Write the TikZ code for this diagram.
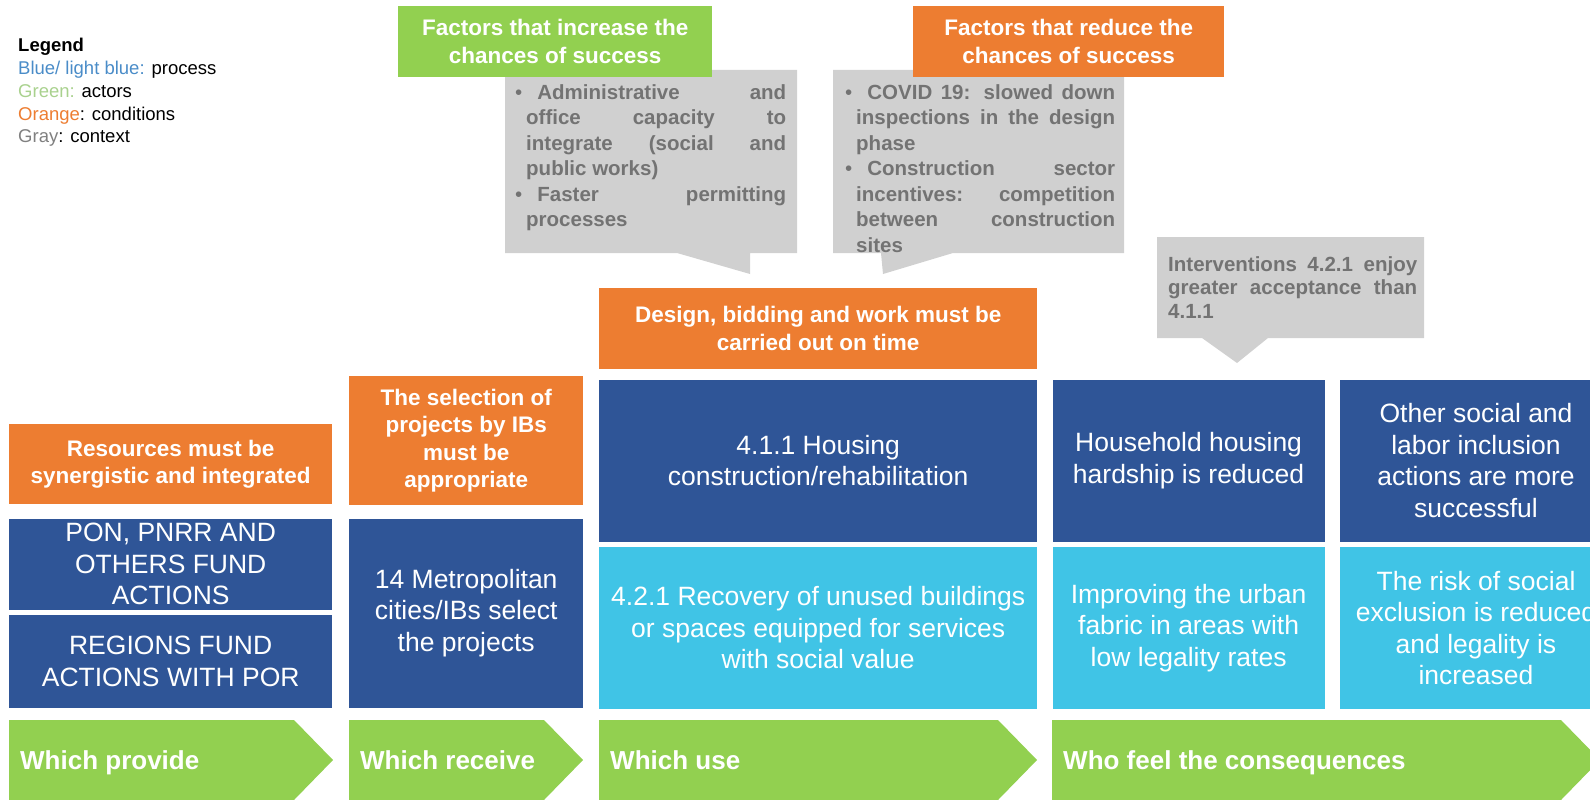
\documentclass[tikz,border=0pt]{standalone}
\usepackage{fontspec}
\setmainfont{Liberation Sans}
\usepackage{tikz}
\usetikzlibrary{positioning}
\usepackage{xcolor}

\definecolor{procblue}{HTML}{2F5597}
\definecolor{proclight}{HTML}{40C4E6}
\definecolor{condorange}{HTML}{ED7D31}
\definecolor{actorgreen}{HTML}{92D050}
\definecolor{calloutgray}{HTML}{D0D0D0}
\definecolor{callouttxt}{HTML}{737373}
\definecolor{legblue}{HTML}{4A8CC8}
\definecolor{leggreen}{HTML}{A9D18E}
\definecolor{leggray}{HTML}{808080}

\newcommand{\procfont}{\fontsize{26.5}{31.5}\selectfont}
\newcommand{\condfont}{\bfseries\fontsize{22.5}{27.5}\selectfont}
\newcommand{\calloutfont}{\bfseries\fontsize{20.5}{25.5}\selectfont}
\newcommand{\notefont}{\bfseries\fontsize{20.5}{23.5}\selectfont}
\newcommand{\actorfont}{\bfseries\fontsize{26}{31}\selectfont}
\newcommand{\legendfont}{\fontsize{18.5}{22.8}\selectfont}
\newcommand{\calbullet}{{\mdseries\textbullet}\hspace{15pt}}

\begin{document}
\begin{tikzpicture}[
    x=1pt, y=-1pt,
    box/.style={rectangle, inner sep=0pt, align=center, text=white},
    condbox/.style={box, fill=condorange, font=\condfont},
    headbox/.style={box, font=\condfont, minimum height=71pt, anchor=north west},
    procbox/.style={box, fill=procblue, font=\procfont},
    lightbox/.style={procbox, fill=proclight},
    calloutbg/.style={fill=calloutgray},
    callouttext/.style={inner sep=0pt, anchor=north west, align=justify, text=callouttxt, font=\calloutfont},
    actorarrow/.style={fill=actorgreen},
    actortext/.style={inner sep=0pt, anchor=base west, text=white, font=\actorfont},
    legendtext/.style={inner sep=0pt, anchor=north west, align=left, font=\legendfont}
]

\useasboundingbox (0,0) rectangle (1590,800);
\clip (0,0) rectangle (1590,800);

% Legend
\node[legendtext] (legend) at (18,38) {\textbf{Legend}\\
  \textcolor{legblue}{Blue/ light blue:} process\\
  \textcolor{leggreen}{Green:} actors\\
  \textcolor{condorange}{Orange}: conditions\\
  \textcolor{leggray}{Gray}: context};

% Callouts (headers are put on top of them)
\fill[calloutbg] (505,70) -- (797,70) -- (797,253) -- (750,253) -- (750,274) -- (677,253) -- (505,253) -- cycle;
\node[callouttext, text width=271pt] (helps) at (515,84) {%
  \noindent\hangindent=11pt\hangafter=1 \calbullet Administrative and\linebreak
  office capacity to\linebreak integrate (social and\linebreak public works)\par
  \noindent\hangindent=11pt\hangafter=1 \calbullet Faster permitting\linebreak processes\par};

\fill[calloutbg] (833,70) -- (1124,70) -- (1124,253) -- (953,253) -- (883,274) -- (881,253) -- (833,253) -- cycle;
\node[callouttext, text width=270pt] (hinders) at (845,84) {%
  \noindent\hangindent=11pt\hangafter=1 \calbullet COVID 19: slowed down\linebreak
  inspections in the design\linebreak phase\par
  \noindent\hangindent=11pt\hangafter=1 \calbullet Construction sector\linebreak
  incentives: competition\linebreak between construction\linebreak sites\par};

\fill[calloutbg] (1157,237) -- (1424,237) -- (1424,338) -- (1268,338) -- (1237,363) -- (1202,338) -- (1157,338) -- cycle;
\node[callouttext, text width=249pt, font=\notefont] (acceptance) at (1168,256) {%
  Interventions 4.2.1 enjoy\linebreak greater acceptance than\linebreak 4.1.1};

% Header boxes
\node[headbox, fill=actorgreen, minimum width=314pt] (increase) at (398,6) {Factors that increase the\\chances of success};
\node[headbox, fill=condorange, minimum width=311pt] (reduce) at (913,6) {Factors that reduce the\\chances of success};

% Column 1: funding
\node[condbox, minimum width=323pt, minimum height=80pt, anchor=north west] (resources) at (9,424) {Resources must be\\synergistic and integrated};
\node[procbox, minimum width=323pt, minimum height=91pt, below=14pt of resources] (pon) {PON, PNRR AND\\OTHERS FUND\\ACTIONS};
\node[procbox, minimum width=323pt, minimum height=93pt, below=5pt of pon] (regions) {REGIONS FUND\\ACTIONS WITH POR};

% Column 2: selection
\node[condbox, minimum width=234pt, minimum height=129pt, anchor=north west] (selection) at (349,376) {The selection of\\projects by IBs\\must be\\appropriate};
\node[procbox, minimum width=234pt, minimum height=189pt, below=13pt of selection] (metro) {14 Metropolitan\\cities/IBs select\\the projects};

% Column 3: interventions
\node[condbox, minimum width=438pt, minimum height=81pt, anchor=north west] (design) at (599,288) {Design, bidding and work must be\\carried out on time};
\node[procbox, minimum width=438pt, minimum height=162pt, below=10pt of design] (housing) {4.1.1 Housing\\construction/rehabilitation};
\node[lightbox, minimum width=438pt, minimum height=162pt, below=5pt of housing] (recovery) {4.2.1 Recovery of unused buildings\\or spaces equipped for services\\with social value};

% Columns 4-5: consequences
\node[procbox, minimum width=272pt, minimum height=162pt, right=15pt of housing] (household) {Household housing\\hardship is reduced};
\node[lightbox, minimum width=272pt, minimum height=162pt, below=5pt of household] (urban) {Improving the urban\\fabric in areas with\\low legality rates};
\node[procbox, minimum width=272pt, minimum height=162pt, right=15pt of household] (inclusion) {Other social and\\labor inclusion\\actions are more\\successful};
\node[lightbox, minimum width=272pt, minimum height=162pt, below=5pt of inclusion] (exclusion) {The risk of social\\exclusion is reduced\\and legality is\\increased};

% Actor arrows
\fill[actorarrow] (9,720) -- (294,720) -- (333,760) -- (294,800) -- (9,800) -- cycle;
\node[actortext] (provide) at (20,769) {Which provide};
\fill[actorarrow] (349,720) -- (544,720) -- (583,760) -- (544,800) -- (349,800) -- cycle;
\node[actortext] (receive) at (360,769) {Which receive};
\fill[actorarrow] (599,720) -- (998,720) -- (1037,760) -- (998,800) -- (599,800) -- cycle;
\node[actortext] (use) at (610,769) {Which use};
\fill[actorarrow] (1052,720) -- (1561,720) -- (1600,760) -- (1561,800) -- (1052,800) -- cycle;
\node[actortext] (feel) at (1063,769) {Who feel the consequences};

\end{tikzpicture}
\end{document}
